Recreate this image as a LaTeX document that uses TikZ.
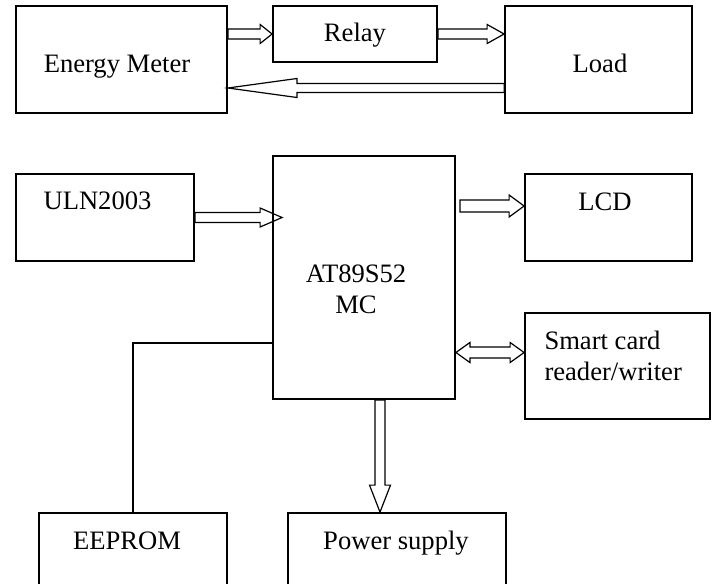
\documentclass[tikz,border=0pt]{standalone}
\usepackage{fontspec}
\setmainfont{Liberation Serif}
\usetikzlibrary{calc,positioning}
\tikzset{
	box/.style={
		rectangle,
		draw,
		line width=0.9pt,
		inner sep=0pt
	},
	txt/.style={inner sep=0pt,anchor=base,align=center,font=\fontsize{13.3}{15.5}\selectfont},
	wire/.style={line width=0.8pt},
	% hollow arrow: shaft half width, head half width, head length
	fat/.style n args={3}{
		line width=0.6pt,
		to path={
			($(\tikztotarget)!#3!(\tikztostart)$) coordinate (fath)
			($(\tikztostart)!#1!90:(\tikztotarget)$)
			-- ($(fath)!#1!90:(\tikztotarget)$)
			-- ($(fath)!#2!90:(\tikztotarget)$)
			-- (\tikztotarget)
			-- ($(fath)!#2!-90:(\tikztotarget)$)
			-- ($(fath)!#1!-90:(\tikztotarget)$)
			-- ($(\tikztostart)!#1!-90:(\tikztotarget)$)
			-- cycle
		}
	},
	fatboth/.style n args={3}{
		line width=0.6pt,
		to path={
			($(\tikztostart)!#3!(\tikztotarget)$) coordinate (fata)
			($(\tikztotarget)!#3!(\tikztostart)$) coordinate (fatb)
			(\tikztostart)
			-- ($(fata)!#2!90:(\tikztotarget)$)
			-- ($(fata)!#1!90:(\tikztotarget)$)
			-- ($(fatb)!#1!90:(\tikztotarget)$)
			-- ($(fatb)!#2!90:(\tikztotarget)$)
			-- (\tikztotarget)
			-- ($(fatb)!#2!-90:(\tikztotarget)$)
			-- ($(fatb)!#1!-90:(\tikztotarget)$)
			-- ($(fata)!#1!-90:(\tikztotarget)$)
			-- ($(fata)!#2!-90:(\tikztotarget)$)
			-- cycle
		}
	}
}

\begin{document}
\begin{tikzpicture}[x=0.5pt,y=-0.5pt]
	\useasboundingbox (0,0) rectangle (715,583);
	\clip (0,0) rectangle (715,583);

	% meter, relay and load
	\node[box,minimum width=105.5pt,minimum height=53.5pt] (meter) at (121.5,59.5) {};
	\node[box,minimum width=82pt,minimum height=28pt] (relay) at (355,34) {};
	\node[box,minimum width=93.5pt,minimum height=53.5pt] (load) at (598.5,59.5) {};

	\node[txt] (metertext) at ([xshift=-2.25pt,yshift=-6.75pt]meter.center) {Energy Meter};
	\node[txt] (relaytext) at ([yshift=-4pt]relay.center) {Relay};
	\node[txt] (loadtext) at ([xshift=0.75pt,yshift=-6.75pt]load.center) {Load};

	\coordinate (loadin) at (relay.east -| load.west);
	\coordinate[yshift=-14.25pt] (meterin) at (meter.east);
	\draw[fat={2.5pt}{4.75pt}{6pt}] (meter.east |- relay.west) to (relay.west);
	\draw[fat={2.5pt}{4.75pt}{8.5pt}] (relay.east) to (loadin);
	\draw[fat={2.25pt}{4.75pt}{34.5pt}] ([yshift=-14.25pt]load.west) to (meterin);

	% controller board
	\node[box,minimum width=89pt,minimum height=43.5pt] (uln) at (105,217.5) {};
	\node[box,minimum width=91pt,minimum height=121.5pt] (mcu) at (364,277.5) {};
	\node[box,minimum width=83.5pt,minimum height=43.5pt] (lcd) at (608.5,217.5) {};
	\node[box,minimum width=92.5pt,minimum height=53pt] (card) at (617.5,366) {};
	\node[box,minimum width=94pt,minimum height=43.5pt] (eeprom) at (133,556.5) {};
	\node[box,minimum width=109pt,minimum height=43.5pt] (power) at (397,556.5) {};

	\node[txt] (ulntext) at ([xshift=-3.75pt,yshift=4.25pt]uln.center) {ULN2003};
	\node[txt] (mcutext) at ([xshift=-4pt,yshift=-17.75pt]mcu.center) {AT89S52\\MC};
	\node[txt] (lcdtext) at ([xshift=-1.75pt,yshift=3.75pt]lcd.center) {LCD};
	\node[txt,anchor=base west,align=left] (cardtext) at ([xshift=10pt,yshift=-7pt]card.west) {Smart card\\reader/writer};
	\node[txt] (eepromtext) at ([xshift=-3pt,yshift=-18.5pt]eeprom.north) {EEPROM};
	\node[txt] (powertext) at ([xshift=-0.5pt,yshift=-18.5pt]power.north) {Power supply};

	\coordinate[xshift=5pt] (mcuin) at (mcu.west |- uln.east);
	\coordinate[yshift=5.75pt] (lcdin) at (lcd.west);
	\coordinate[xshift=2pt] (mcuout) at (mcu.east |- lcdin);
	\coordinate[yshift=6.75pt] (cardin) at (card.west);
	\coordinate[xshift=8pt] (mcubot) at (mcu.south);
	\coordinate (powerin) at (mcubot |- power.north);

	\draw[fat={2.5pt}{4.75pt}{11pt}] (uln.east) to (mcuin);
	\draw[fat={3pt}{5.5pt}{7.5pt}] (mcuout) to (lcdin);
	\draw[fatboth={2.75pt}{5pt}{7pt}] (mcu.east |- cardin) to (cardin);
	\draw[fat={2.5pt}{5.25pt}{13.5pt}] (mcubot) to (powerin);
	\draw[wire] ([yshift=-32.75pt]mcu.west) -| (eeprom.north);
\end{tikzpicture}
\end{document}
